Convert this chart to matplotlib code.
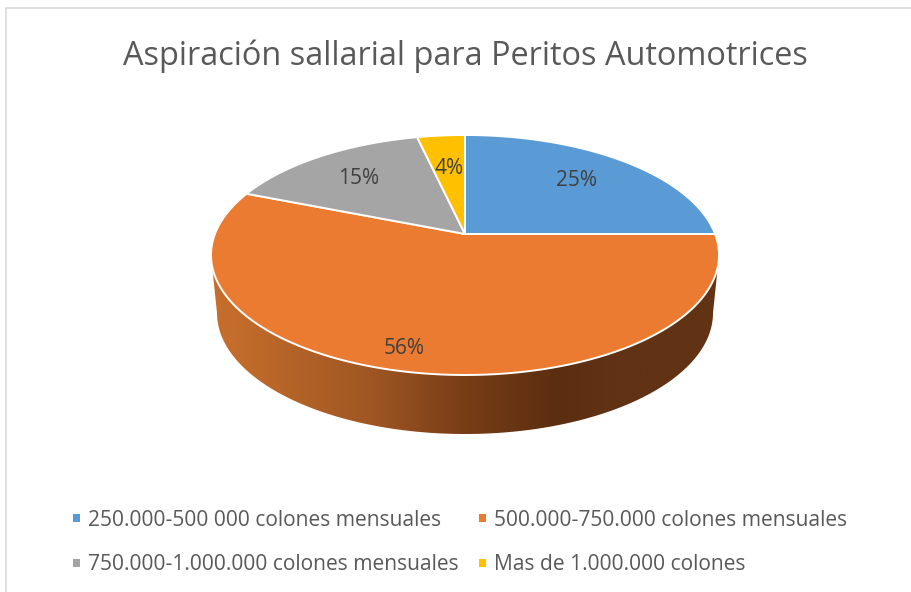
import numpy as np
import matplotlib
matplotlib.use("Agg")
import matplotlib.pyplot as plt
from matplotlib.colors import LinearSegmentedColormap
from matplotlib.patches import Polygon, Rectangle

title = "Aspiración sallarial para Peritos Automotrices"
categories = [
    "250.000-500 000 colones mensuales",
    "500.000-750.000 colones mensuales",
    "750.000-1.000.000 colones mensuales",
    "Mas de 1.000.000 colones",
]
values = [25, 56, 15.4, 3.6]
colors = ["#5B9BD5", "#EB7B31", "#A5A5A5", "#FFC000"]

# geometry of the tilted pie, in pixels of the picture
apex_x, apex_y = 465, 234
back_reach, front_reach = 99, 141
half_width = 254
depth_cy, depth_rx, depth_ry = 313, 248, 121

# side wall shading from left to right
wall_colors = ["#C66E2C", "#C36C2B", "#A05723", "#783D17", "#5C2E10", "#613214", "#613214"]
wall_stops = [0.0, 0.05, 0.31, 0.50, 0.68, 0.80, 1.0]

plt.rcParams["font.family"] = ["Open Sans", "DejaVu Sans"]

fig = plt.figure(figsize=(9.12, 5.92), dpi=100)
ax = fig.add_axes([0, 0, 1, 1])
ax.set_xlim(0, 912)
ax.set_ylim(592, 0)
ax.axis("off")

# perspective: centre of the pie sits above the centre of the ellipse
k = (front_reach - back_reach) / (front_reach + back_reach)
b = back_reach * (1 + k)
a = half_width * np.sqrt(1 - k ** 2)


def rim(theta):
    # theta clockwise from 12 o'clock, in radians
    u, v = np.sin(theta), np.cos(theta)
    d = 1 + k * v
    return apex_x + a * u / d, apex_y - b * v / d


# side wall
cy = apex_y + (front_reach - back_reach) / 2
t = np.linspace(0, np.pi, 200)
top_x = apex_x - half_width * np.cos(t)
top_y = cy + (back_reach + front_reach) / 2 * np.sin(t)
low_x = apex_x + depth_rx * np.cos(t)
low_y = depth_cy + depth_ry * np.sin(t)
wall = Polygon(np.column_stack([np.r_[top_x, low_x], np.r_[top_y, low_y]]),
               closed=True, facecolor="none", edgecolor="none")
ax.add_patch(wall)
cmap = LinearSegmentedColormap.from_list("wall", list(zip(wall_stops, wall_colors)))
x0, x1 = apex_x - half_width, apex_x + half_width
im = ax.imshow(np.linspace(0, 1, 512).reshape(1, -1), cmap=cmap, aspect="auto",
               extent=[x0, x1, 440, 250], zorder=1)
im.set_clip_path(wall)
ax.set_xlim(0, 912)
ax.set_ylim(592, 0)

# top face
edges = np.cumsum([0] + values) / sum(values) * 2 * np.pi
for start, end, color in zip(edges[:-1], edges[1:], colors):
    th = np.linspace(start, end, 200)
    xs, ys = rim(th)
    pts = np.column_stack([np.r_[apex_x, xs], np.r_[apex_y, ys]])
    ax.add_patch(Polygon(pts, closed=True, facecolor=color, edgecolor="white",
                         linewidth=1.4, joinstyle="round", zorder=2))

# data labels
label_xy = [(577, 181), (404, 349), (359, 179), (449, 169)]
for (lx, ly), v in zip(label_xy, values):
    ax.text(lx, ly, f"{v:.0f}%", ha="center", va="center", color="#404040",
            fontsize=15, zorder=3)

ax.text(465, 56, title, ha="center", va="center", color="#595959", fontsize=23.4)

# legend
legend_xy = [(88, 519), (494, 519), (88, 564), (494, 564)]
for (lx, ly), name, color in zip(legend_xy, categories, colors):
    ax.add_patch(Rectangle((lx - 15, ly - 5), 7, 8, facecolor=color, edgecolor="none"))
    ax.text(lx, ly + 1, name, ha="left", va="center", color="#595959", fontsize=15.1)

# frame of the chart, only top and left show in the crop
ax.plot([6, 6, 912], [592, 8, 8], color="#D9D9D9", linewidth=1.2, solid_joinstyle="miter")

fig.savefig("out.png", dpi=100)
